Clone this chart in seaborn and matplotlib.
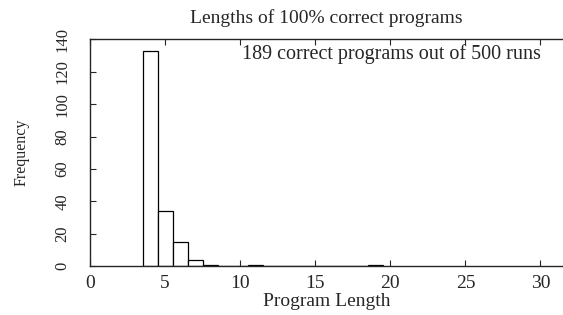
import numpy as np
import pandas as pd
import matplotlib
matplotlib.use("Agg")
import matplotlib.pyplot as plt
import seaborn as sns

# program lengths and how many correct programs had each length
lengths = [4, 5, 6, 7, 8, 11, 19]
counts = [133, 34, 15, 4, 1, 1, 1]
x_ticks = [0, 5, 10, 15, 20, 25, 30]
y_ticks = [0, 20, 40, 60, 80, 100, 120, 140]

sns.set_style("ticks")
plt.rcParams["font.family"] = ["Liberation Serif", "DejaVu Serif"]

df = pd.DataFrame({"length": lengths, "count": counts})

fig = plt.figure(figsize=(5.63, 3.15), dpi=100)
ax = fig.add_axes([0.16, 0.155, 0.84, 0.72])
sns.histplot(data=df, x="length", weights="count", discrete=True, ax=ax,
             color="white", edgecolor="black", linewidth=0.9, alpha=1)

ax.set_xlim(0, 31.5)
ax.set_ylim(0, 140)
ax.set_xticks(x_ticks)
ax.set_yticks(y_ticks)
ax.tick_params(axis="x", direction="in", top=True, length=4, labelsize=14, pad=6)
ax.tick_params(axis="y", direction="in", length=4, labelsize=12, labelrotation=90, pad=14)
for lab in ax.get_yticklabels():
    lab.set_va("center")
ax.spines["right"].set_visible(False)
for s in ["left", "bottom", "top"]:
    ax.spines[s].set_linewidth(1.0)

ax.set_xlabel("Program Length", fontsize=14, labelpad=1)
ax.set_ylabel("Frequency", fontsize=11.5, labelpad=18)
ax.set_title("Lengths of 100% correct programs", fontsize=14, pad=12)
ax.text(30, 137.3, "189 correct programs out of 500 runs", ha="right", va="top", fontsize=14.5)

fig.savefig("out.png", dpi=100, facecolor="white")
